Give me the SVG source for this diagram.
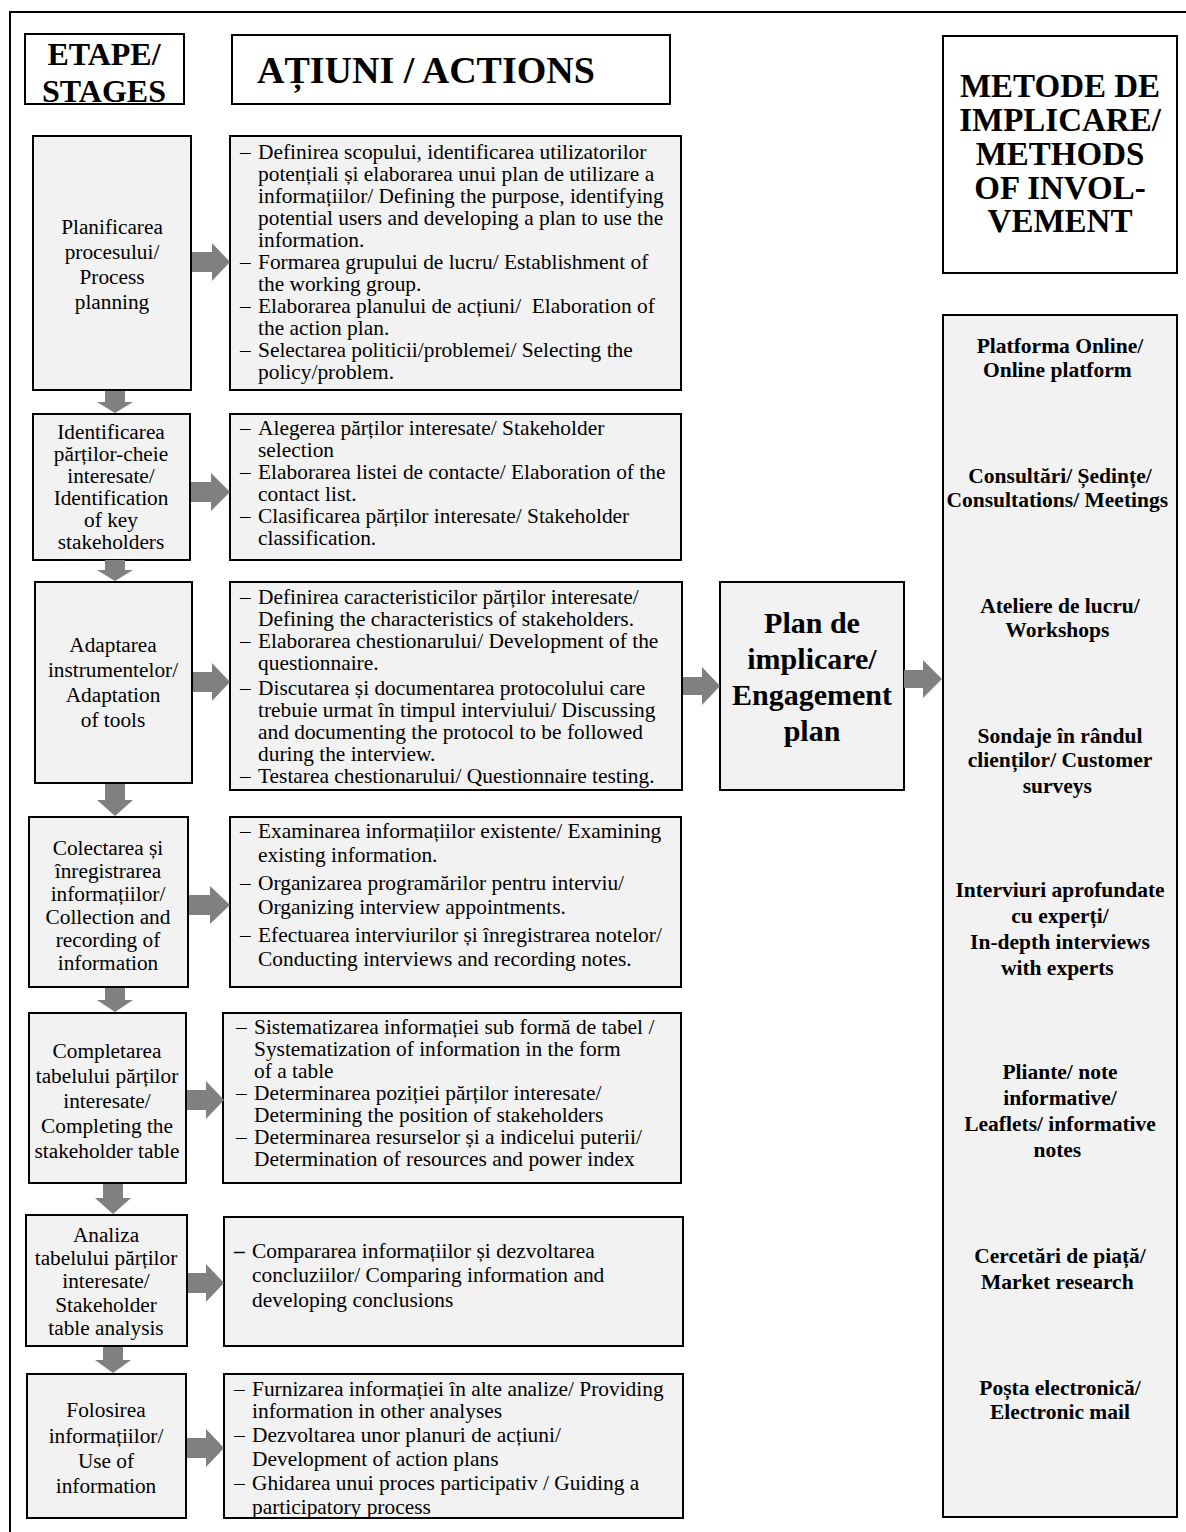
<svg xmlns="http://www.w3.org/2000/svg" width="1186" height="1532" viewBox="0 0 1186 1532">
<style>
.box{fill:#f2f2f2;stroke:#000;stroke-width:2}
.hdr{fill:#fff;stroke:#000;stroke-width:2}
.frame{fill:none;stroke:#000;stroke-width:2}
.arr{fill:#808080}
text{font-family:"Liberation Serif","Times New Roman",serif;fill:#000}
.st{font-size:21.3px;text-anchor:middle}
.ac{font-size:21.4px}
.mt{font-size:21.5px;font-weight:bold;text-anchor:middle}
.hd{font-weight:bold;text-anchor:middle}
</style>
<rect width="1186" height="1532" fill="#fff"/>
<polyline class="frame" points="10,1532 10,12 1186,12"/>

<g id="hdr-stages"><rect class="hdr" x="25" y="34" width="159" height="70"/>
<text class="hd" font-size="32" x="104" y="65">ETAPE/</text><text class="hd" font-size="32" x="104" y="102">STAGES</text></g>
<g id="hdr-actions"><rect class="hdr" x="232" y="35" width="438" height="69"/>
<text font-weight="bold" font-size="38" x="257" y="83">AȚIUNI / ACTIONS</text></g>
<g id="hdr-methods"><rect class="hdr" x="943" y="36" width="234" height="237"/>
<text class="hd" font-size="33"><tspan x="1060" y="97">METODE DE</tspan><tspan x="1060" y="131">IMPLICARE/</tspan><tspan x="1060" y="165">METHODS</tspan><tspan x="1060" y="199">OF INVOL-</tspan><tspan x="1060" y="232">VEMENT</tspan></text></g>

<g id="stage1"><rect class="box" x="33" y="136" width="158" height="254"/>
<text class="st"><tspan x="112" y="234">Planificarea</tspan><tspan x="112" y="259">procesului/</tspan><tspan x="112" y="284">Process</tspan><tspan x="112" y="309">planning</tspan></text></g>
<g id="stage2"><rect class="box" x="33" y="414" width="157" height="146"/>
<text class="st"><tspan x="111" y="439">Identificarea</tspan><tspan x="111" y="461">părților-cheie</tspan><tspan x="111" y="483">interesate/</tspan><tspan x="111" y="505">Identification</tspan><tspan x="111" y="527">of key</tspan><tspan x="111" y="549">stakeholders</tspan></text></g>
<g id="stage3"><rect class="box" x="35" y="582" width="157" height="201"/>
<text class="st"><tspan x="113" y="652">Adaptarea</tspan><tspan x="113" y="677">instrumentelor/</tspan><tspan x="113" y="702">Adaptation</tspan><tspan x="113" y="727">of tools</tspan></text></g>
<g id="stage4"><rect class="box" x="29" y="817" width="159" height="170"/>
<text class="st"><tspan x="108" y="855">Colectarea și</tspan><tspan x="108" y="878">înregistrarea</tspan><tspan x="108" y="901">informațiilor/</tspan><tspan x="108" y="924">Collection and</tspan><tspan x="108" y="947">recording of</tspan><tspan x="108" y="970">information</tspan></text></g>
<g id="stage5"><rect class="box" x="29" y="1013" width="157" height="170"/>
<text class="st"><tspan x="107" y="1058">Completarea</tspan><tspan x="107" y="1083">tabelului părților</tspan><tspan x="107" y="1108">interesate/</tspan><tspan x="107" y="1133">Completing the</tspan><tspan x="107" y="1158">stakeholder table</tspan></text></g>
<g id="stage6"><rect class="box" x="26" y="1215" width="161" height="131"/>
<text class="st"><tspan x="106" y="1242">Analiza</tspan><tspan x="106" y="1265">tabelului părților</tspan><tspan x="106" y="1288">interesate/</tspan><tspan x="106" y="1312">Stakeholder</tspan><tspan x="106" y="1335">table analysis</tspan></text></g>
<g id="stage7"><rect class="box" x="27" y="1374" width="159" height="144"/>
<text class="st"><tspan x="106" y="1417">Folosirea</tspan><tspan x="106" y="1443">informațiilor/</tspan><tspan x="106" y="1468">Use of</tspan><tspan x="106" y="1493">information</tspan></text></g>

<g id="actions1"><rect class="box" x="230" y="136" width="451" height="254"/>
<text class="ac"><tspan x="240" y="159">–</tspan><tspan x="258" y="159">Definirea scopului, identificarea utilizatorilor</tspan><tspan x="258" y="181">potențiali și elaborarea unui plan de utilizare a</tspan><tspan x="258" y="203">informațiilor/ Defining the purpose, identifying</tspan><tspan x="258" y="225">potential users and developing a plan to use the</tspan><tspan x="258" y="247">information.</tspan><tspan x="240" y="269">–</tspan><tspan x="258" y="269">Formarea grupului de lucru/ Establishment of</tspan><tspan x="258" y="291">the working group.</tspan><tspan x="240" y="313">–</tspan><tspan x="258" y="313" xml:space="preserve">Elaborarea planului de acțiuni/  Elaboration of</tspan><tspan x="258" y="335">the action plan.</tspan><tspan x="240" y="357">–</tspan><tspan x="258" y="357">Selectarea politicii/problemei/ Selecting the</tspan><tspan x="258" y="379">policy/problem.</tspan></text></g>
<g id="actions2"><rect class="box" x="230" y="414" width="451" height="146"/>
<text class="ac"><tspan x="240" y="435">–</tspan><tspan x="258" y="435">Alegerea părților interesate/ Stakeholder</tspan><tspan x="258" y="457">selection</tspan><tspan x="240" y="479">–</tspan><tspan x="258" y="479">Elaborarea listei de contacte/ Elaboration of the</tspan><tspan x="258" y="501">contact list.</tspan><tspan x="240" y="523">–</tspan><tspan x="258" y="523">Clasificarea părților interesate/ Stakeholder</tspan><tspan x="258" y="545">classification.</tspan></text></g>
<g id="actions3"><rect class="box" x="230" y="582" width="452" height="208"/>
<text class="ac"><tspan x="240" y="604">–</tspan><tspan x="258" y="604">Definirea caracteristicilor părților interesate/</tspan><tspan x="258" y="626">Defining the characteristics of stakeholders.</tspan><tspan x="240" y="648">–</tspan><tspan x="258" y="648">Elaborarea chestionarului/ Development of the</tspan><tspan x="258" y="670">questionnaire.</tspan><tspan x="240" y="695">–</tspan><tspan x="258" y="695">Discutarea și documentarea protocolului care</tspan><tspan x="258" y="717">trebuie urmat în timpul interviului/ Discussing</tspan><tspan x="258" y="739">and documenting the protocol to be followed</tspan><tspan x="258" y="761">during the interview.</tspan><tspan x="240" y="783">–</tspan><tspan x="258" y="783">Testarea chestionarului/ Questionnaire testing.</tspan></text></g>
<g id="actions4"><rect class="box" x="230" y="817" width="451" height="170"/>
<text class="ac"><tspan x="240" y="838">–</tspan><tspan x="258" y="838">Examinarea informațiilor existente/ Examining</tspan><tspan x="258" y="862">existing information.</tspan><tspan x="240" y="890">–</tspan><tspan x="258" y="890">Organizarea programărilor pentru interviu/</tspan><tspan x="258" y="914">Organizing interview appointments.</tspan><tspan x="240" y="942">–</tspan><tspan x="258" y="942">Efectuarea interviurilor și înregistrarea notelor/</tspan><tspan x="258" y="966">Conducting interviews and recording notes.</tspan></text></g>
<g id="actions5"><rect class="box" x="223" y="1013" width="458" height="170"/>
<text class="ac"><tspan x="236" y="1034">–</tspan><tspan x="254" y="1034">Sistematizarea informației sub formă de tabel /</tspan><tspan x="254" y="1056">Systematization of information in the form</tspan><tspan x="254" y="1078">of a table</tspan><tspan x="236" y="1100">–</tspan><tspan x="254" y="1100">Determinarea poziției părților interesate/</tspan><tspan x="254" y="1122">Determining the position of stakeholders</tspan><tspan x="236" y="1144">–</tspan><tspan x="254" y="1144">Determinarea resurselor și a indicelui puterii/</tspan><tspan x="254" y="1166">Determination of resources and power index</tspan></text></g>
<g id="actions6"><rect class="box" x="224" y="1217" width="459" height="129"/>
<text class="ac"><tspan x="234" y="1258" font-weight="bold">–</tspan><tspan x="252" y="1258">Compararea informațiilor și dezvoltarea</tspan><tspan x="252" y="1282">concluziilor/ Comparing information and</tspan><tspan x="252" y="1307">developing conclusions</tspan></text></g>
<g id="actions7"><rect class="box" x="224" y="1374" width="459" height="144"/>
<text class="ac"><tspan x="234" y="1396">–</tspan><tspan x="252" y="1396">Furnizarea informației în alte analize/ Providing</tspan><tspan x="252" y="1418">information in other analyses</tspan><tspan x="234" y="1442">–</tspan><tspan x="252" y="1442">Dezvoltarea unor planuri de acțiuni/</tspan><tspan x="252" y="1466">Development of action plans</tspan><tspan x="234" y="1490">–</tspan><tspan x="252" y="1490">Ghidarea unui proces participativ / Guiding a</tspan><tspan x="252" y="1514">participatory process</tspan></text></g>

<g id="plan"><rect class="box" x="720" y="582" width="184" height="208"/>
<text class="hd" font-size="30"><tspan x="812" y="633">Plan de</tspan><tspan x="812" y="669">implicare/</tspan><tspan x="812" y="705">Engagement</tspan><tspan x="812" y="741">plan</tspan></text></g>

<g id="methods"><rect class="box" x="943" y="315" width="234" height="1202"/>
<text class="mt"><tspan x="1060" y="353">Platforma Online/</tspan><tspan x="1060" y="377">Online platform</tspan>
<tspan x="1060" y="483">Consultări/ Ședințe/</tspan><tspan x="1060" y="507">Consultations/ Meetings</tspan>
<tspan x="1060" y="613">Ateliere de lucru/</tspan><tspan x="1060" y="637">Workshops</tspan>
<tspan x="1060" y="743">Sondaje în rândul</tspan><tspan x="1060" y="767">clienților/ Customer</tspan><tspan x="1060" y="793">surveys</tspan>
<tspan x="1060" y="897">Interviuri aprofundate</tspan><tspan x="1060" y="923">cu experți/</tspan><tspan x="1060" y="949">In-depth interviews</tspan><tspan x="1060" y="975">with experts</tspan>
<tspan x="1060" y="1079">Pliante/ note</tspan><tspan x="1060" y="1105">informative/</tspan><tspan x="1060" y="1131">Leaflets/ informative</tspan><tspan x="1060" y="1157">notes</tspan>
<tspan x="1060" y="1263">Cercetări de piață/</tspan><tspan x="1060" y="1289">Market research</tspan>
<tspan x="1060" y="1395">Poșta electronică/</tspan><tspan x="1060" y="1419">Electronic mail</tspan></text></g>

<g id="connectors" class="arr">
<polygon points="192,252 212,252 212,243 230,262 212,281 212,272 192,272"/>
<polygon points="191,482 211,482 211,473 230,492 211,511 211,502 191,502"/>
<polygon points="193,672 212,672 212,663 230,682 212,701 212,692 193,692"/>
<polygon points="189,895 210,895 210,886 230,905 210,924 210,915 189,915"/>
<polygon points="187,1090 206,1090 206,1081 224,1100 206,1119 206,1110 187,1110"/>
<polygon points="188,1273 206,1273 206,1264 224,1283 206,1302 206,1293 188,1293"/>
<polygon points="187,1438 206,1438 206,1429 224,1448 206,1467 206,1458 187,1458"/>
<polygon points="683,677 702,677 702,667 720,686 702,705 702,695 683,695"/>
<polygon points="904,670 923,670 923,660 942,679 923,698 923,688 904,688"/>
<polygon points="105,391 125,391 125,402 133,402 115,413 97,402 105,402"/>
<polygon points="105,560 125,560 125,570 133,570 115,581 97,570 105,570"/>
<polygon points="105,784 125,784 125,800 133,800 115,816 97,800 105,800"/>
<polygon points="105,988 125,988 125,1000 133,1000 115,1012 97,1000 105,1000"/>
<polygon points="103,1184 123,1184 123,1198 131,1198 113,1214 95,1198 103,1198"/>
<polygon points="103,1347 123,1347 123,1360 131,1360 113,1373 95,1360 103,1360"/>
</g>
</svg>
